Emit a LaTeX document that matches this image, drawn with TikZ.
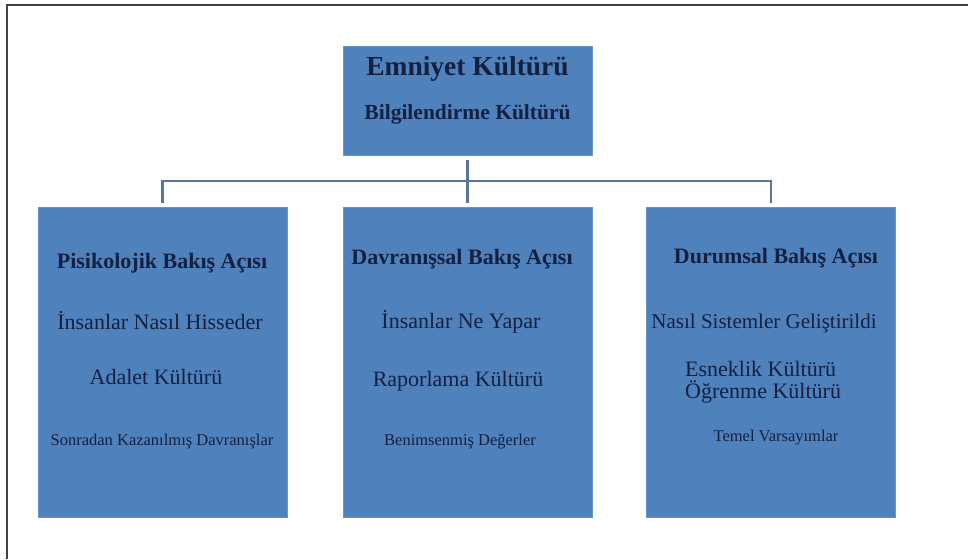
\documentclass[tikz,border=0pt]{standalone}
\usepackage{fontspec}
\setmainfont{Liberation Serif}
\usepackage{tikz}
\usetikzlibrary{calc}

\definecolor{boxblue}{HTML}{4F81BD}
\definecolor{inkblue}{HTML}{14203F}
\definecolor{linkgray}{HTML}{58769A}

\tikzset{
	box/.style={rectangle,fill=boxblue,draw=boxblue!85!white,line width=0.6pt,minimum width=249pt,inner sep=0pt},
	link/.style={draw=linkgray,line width=2.4pt},
	txt/.style={text=inkblue,inner sep=0pt,anchor=base},
	head/.style={txt,font=\bfseries\fontsize{22}{24}\selectfont},
	line/.style={txt,font=\fontsize{22}{24}\selectfont},
	small/.style={txt,font=\fontsize{16.5}{18}\selectfont}
}

\begin{document}
\begin{tikzpicture}[x=1pt,y=-1pt]
		\useasboundingbox (0,0) rectangle (968,559);
		% frame
		\coordinate (O) at (7,5);
		\draw[line width=1.6pt,black!75] (968,5)--(O)--(7,559);
		% boxes
		\node[box,minimum height=109pt] (top) at (467.5,100.5) {};
		\node[box,minimum height=310pt] (psy) at (162.5,362) {};
		\node[box,minimum height=310pt] (beh) at (467.5,362) {};
		\node[box,minimum height=310pt] (sit) at (771,362) {};
		% connectors
		\coordinate (bar) at (467.5,181);
		\draw[link,shorten <=5pt,shorten >=4pt] (top.south)--(beh.north);
		\draw[link,shorten <=4pt,shorten >=4pt] (psy.north)--(psy.north |- bar)--(sit.north |- bar)--(sit.north);
		% top
		\node[txt,font=\bfseries\fontsize{27.5}{30}\selectfont] (t1) at (467.5,76) {Emniyet Kültürü};
		\node[txt,font=\bfseries\fontsize{21.5}{24}\selectfont] (t2) at (467.5,120) {Bilgilendirme Kültürü};
		% left
		\node[head] (p1) at (162,268) {Pisikolojik Bakış Açısı};
		\node[line] (p2) at (160,329) {İnsanlar Nasıl Hisseder};
		\node[line] (p3) at (156,384) {Adalet Kültürü};
		\node[small] (p4) at (162,445) {Sonradan Kazanılmış Davranışlar};
		% middle
		\node[head] (b1) at (462,264) {Davranışsal Bakış Açısı};
		\node[line] (b2) at (461,328) {İnsanlar Ne Yapar};
		\node[line] (b3) at (458,386) {Raporlama Kültürü};
		\node[small] (b4) at (460,445) {Benimsenmiş Değerler};
		% right
		\node[head] (s1) at (776,263) {Durumsal Bakış Açısı};
		\node[line,font=\fontsize{21}{24}\selectfont] (s2) at (764,328) {Nasıl Sistemler Geliştirildi};
		\node[line,anchor=base west] (s3) at (685,376) {Esneklik Kültürü};
		\node[line,anchor=base west] (s4) at (685,398) {Öğrenme Kültürü};
		\node[small] (s5) at (776,441) {Temel Varsayımlar};
	\end{tikzpicture}
\end{document}
